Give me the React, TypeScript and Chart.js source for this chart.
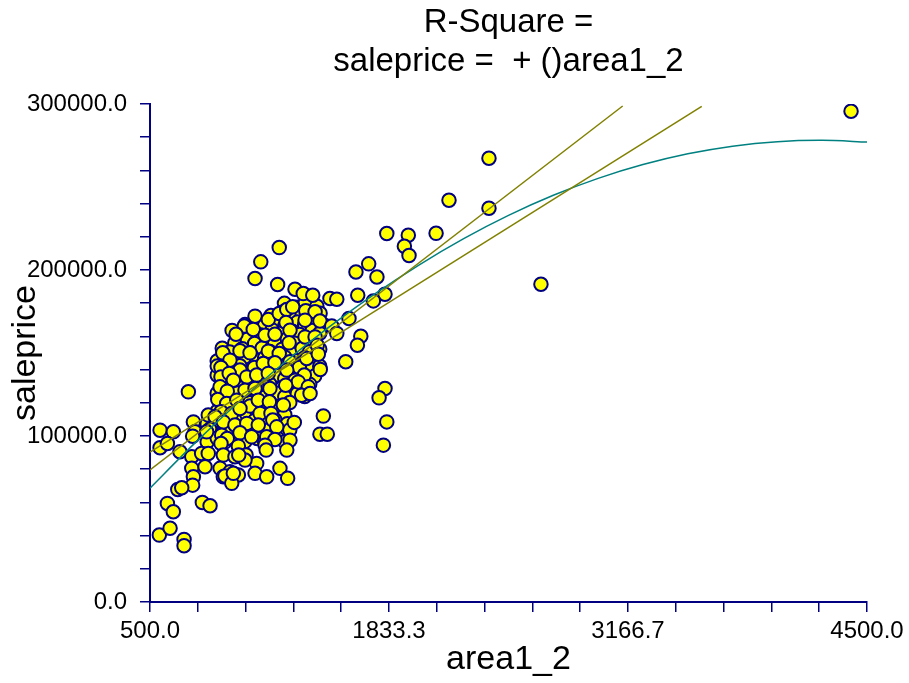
import React, { useEffect, useRef } from 'react';
import { Chart, registerables } from 'chart.js';

Chart.register(...registerables);

// ---- Data: scatter points (area1_2, saleprice) ----
const areaValues = [
  4411, 2681, 2391, 2391, 2168, 2096, 1941, 1919, 1945, 1821,
  1766, 1720, 1649, 1659, 1811, 1746, 1221, 1118, 1086, 1212,
  1309, 1355, 1408, 1504, 1542, 1086, 1160, 1221, 1263, 1296,
  1369, 1421, 1259, 1365, 1448, 1514, 1542, 1610, 1026, 1076,
  980, 1142, 1197, 1281, 1276, 1365, 1421, 1433, 1676, 1657,
  1002, 1058, 1160, 1221, 906, 946, 875, 896, 1002, 1082,
  1132, 1197, 1281, 1333, 1374, 1439, 1361, 1450, 1592, 896,
  942, 965, 1040, 1095, 1160, 1263, 1309, 1327, 1383, 714,
  891, 931, 1030, 1086, 1169, 1257, 1346, 1393, 1811, 1778,
  878, 928, 984, 1058, 1104, 1166, 1244, 896, 956, 1002,
  1114, 1175, 825, 863, 1467, 1821, 742, 751, 816, 909,
  974, 1040, 1104, 1185, 1207, 1305, 556, 630, 738, 900,
  931, 1002, 1067, 1151, 1197, 1281, 1448, 1489, 556, 597,
  667, 896, 993, 1142, 1263, 1802, 733, 788, 825, 909,
  974, 1036, 733, 807, 891, 946, 1095, 1225, 742, 909,
  993, 1086, 1151, 1268, 738, 918, 956, 965, 1030, 655,
  677, 597, 630, 792, 835, 552, 612, 690, 690, 995,
  1148,
];

const salePriceValues = [
  295600, 191400, 267300, 237200, 242000, 222100, 220900, 214300, 208700, 222000,
  195800, 203700, 198800, 184800, 185400, 181400, 213500, 204900, 194900, 191300,
  188400, 185800, 184800, 182800, 182400, 172200, 170200, 173800, 176200, 177800,
  175400, 174800, 168400, 169800, 169300, 166300, 161800, 170800, 166200, 164200,
  161300, 160700, 161300, 163700, 156100, 159700, 159700, 154700, 160100, 154700,
  151300, 150100, 151100, 149700, 150100, 145700, 142100, 141300, 139700, 141300,
  143700, 144100, 144700, 141300, 146700, 149300, 136700, 140100, 144700, 135600,
  137700, 133600, 135600, 136700, 137700, 139700, 133600, 132600, 129600, 126600,
  129600, 127000, 127600, 128600, 128600, 130600, 124600, 125600, 128600, 123000,
  122000, 119600, 121600, 118000, 121600, 120600, 118600, 114600, 113600, 116600,
  113600, 113600, 112600, 111600, 112000, 108500, 108500, 102500, 102500, 108500,
  106600, 107600, 106600, 109600, 105500, 108200, 103500, 102500, 99900, 100500,
  98500, 101900, 99500, 99500, 97900, 97500, 101100, 101100, 92900, 95500,
  90500, 95500, 93900, 94500, 91500, 94500, 87500, 89500, 89500, 88500,
  87500, 88500, 80500, 81500, 80500, 78400, 83500, 80500, 75400, 75400,
  76500, 77500, 75400, 74500, 70400, 75900, 71500, 77500, 85500, 67800,
  68800, 59400, 54400, 60000, 58000, 40300, 44400, 37700, 33900, 88500,
  91500,
];

// Heavily overlapped points inside the dense core of the cloud (estimated)
const coreAreaValues = [
  1250, 1322, 1366, 1431,
  1175, 1240, 1281, 1348, 1391, 1449,
  1030, 1097, 1140, 1210, 1252, 1322, 1363, 1433, 1476,
  958, 1001, 1070, 1112, 1182, 1224, 1294, 1335, 1405, 1447,
  973, 1043, 1084, 1154, 1196, 1266, 1308, 1377, 1419,
  903, 945, 1015, 1056, 1126, 1168, 1238, 1280, 1349, 1391, 1447,
  875, 917, 987, 1029, 1098, 1140, 1210, 1252, 1322, 1363, 1419,
  889, 959, 1001, 1070, 1112, 1182, 1224, 1294, 1335, 1405, 1447,
  875, 917, 987, 1029, 1098, 1140, 1210, 1252, 1322, 1363, 1419,
  903, 945, 1015, 1056, 1126, 1168, 1238, 1280, 1349, 1391,
  875, 917, 987, 1029, 1098, 1140, 1210, 1252, 1322, 1363,
  903, 945, 1015, 1056, 1126, 1168, 1238, 1280,
  875, 917, 987, 1029, 1098, 1140, 1210, 1252,
  819, 861, 931, 973, 1043, 1084, 1154, 1196, 1266,
  833, 903, 945, 1015, 1056, 1126, 1168, 1238, 1280,
  819, 875, 917, 987, 1029, 1098, 1140, 1210, 1252,
];

const corePriceValues = [
  179900, 177600, 180200, 178100,
  172600, 174700, 172100, 174300, 171800, 173900,
  167100, 169400, 166800, 168900, 166300, 168600, 167000, 169200, 166500,
  163600, 161400, 163300, 161000, 163900, 161700, 163100, 161200, 163500, 161900,
  156000, 158300, 155700, 158000, 156300, 158600, 155900, 157800, 156400,
  152800, 150600, 152500, 150200, 153000, 150900, 152300, 150500, 152700, 150800, 152300,
  145200, 147400, 145000, 147600, 145500, 147100, 144900, 147500, 145300, 147200, 145600,
  142000, 139800, 142300, 140100, 141800, 139600, 142100, 139900, 141700, 140300, 142000,
  136600, 134300, 136800, 134600, 136300, 134200, 136700, 134500, 136400, 134700, 136100,
  128900, 131200, 129100, 131000, 128700, 131300, 129200, 130900, 128800, 131100,
  125700, 123400, 125900, 123700, 125400, 123300, 125800, 123600, 125500, 123800,
  118100, 120300, 118400, 120100, 118000, 120400, 118300, 120200,
  114900, 112600, 115100, 112900, 114700, 112500, 115000, 112800,
  107300, 109500, 107600, 109700, 107200, 109400, 107500, 109800, 107400,
  104000, 101800, 104200, 102000, 103800, 101600, 104100, 101900, 103700,
  96400, 98600, 96300, 98800, 96600, 98500, 96200, 98700, 96500,
];

// Straight fitted lines (olive)
const lineFlatX = [500, 3578];
const lineFlatY = [90300, 298600];
const lineSteepX = [500, 3137];
const lineSteepY = [79500, 298800];

// Curved fit (teal)
const curveX = [500, 750, 1000, 1250, 1500, 1750, 2000, 2250, 2500, 2750, 3000, 3250, 3500, 3750, 4000, 4250, 4500];
const curveY = [68600, 95700, 120900, 144300, 165700, 185300, 203000, 218900, 232900, 245000, 255200, 263500, 270000, 274600, 277300, 278100, 277100];

// Axis ticks
const xTickValues = [500, 766.667, 1033.333, 1300, 1566.667, 1833.333, 2100, 2366.667, 2633.333, 2900, 3166.667, 3433.333, 3700, 3966.667, 4233.333, 4500];
const xTickLabels = ['500.0', '', '', '', '', '1833.3', '', '', '', '', '3166.7', '', '', '', '', '4500.0'];
const yTickValues = [0, 20000, 40000, 60000, 80000, 100000, 120000, 140000, 160000, 180000, 200000, 220000, 240000, 260000, 280000, 300000];
const yTickLabels = ['0.0', '', '', '', '', '100000.0', '', '', '', '', '200000.0', '', '', '', '', '300000.0'];

const titleLines = ['R-Square =', 'saleprice =  + ()area1_2'];
const xTitle = 'area1_2';
const yTitle = 'saleprice';

const FONT = 'Arial, "Liberation Sans", sans-serif';
const NAVY = '#000080';

export default function App() {
  const canvasRef = useRef<HTMLCanvasElement | null>(null);

  useEffect(() => {
    document.body.style.margin = '0';
    const canvas = canvasRef.current;
    if (!canvas) return;

    const toPts = (xs: number[], ys: number[]) => xs.map((x, i) => ({ x, y: ys[i] }));
    // core (hidden, overlapped) points first so the readable ones sit on top
    const scatterPts = toPts(coreAreaValues, corePriceValues).concat(toPts(areaValues, salePriceValues));

    const chart = new Chart(canvas, {
      type: 'scatter',
      data: {
        datasets: [
          {
            label: 'fit1',
            data: toPts(lineFlatX, lineFlatY),
            showLine: true,
            borderColor: '#808000',
            borderWidth: 1.5,
            pointRadius: 0,
            order: 0,
          },
          {
            label: 'fit2',
            data: toPts(lineSteepX, lineSteepY),
            showLine: true,
            borderColor: '#808000',
            borderWidth: 1.5,
            pointRadius: 0,
            order: 1,
          },
          {
            label: 'curve',
            data: toPts(curveX, curveY),
            showLine: true,
            borderColor: '#008080',
            borderWidth: 1.5,
            pointRadius: 0,
            tension: 0.3,
            order: 2,
          },
          {
            label: 'points',
            data: scatterPts,
            pointRadius: 6.75,
            pointBorderWidth: 2,
            pointBackgroundColor: '#FFFF00',
            pointBorderColor: NAVY,
            order: 3,
          },
        ],
      },
      options: {
        responsive: false,
        animation: false,
        devicePixelRatio: 1,
        events: [],
        layout: { padding: { left: 0, right: 42, top: 0, bottom: 0 } },
        plugins: {
          legend: { display: false },
          tooltip: { enabled: false },
          title: {
            display: true,
            text: titleLines,
            fullSize: false,
            color: '#000',
            font: { family: FONT, size: 33, weight: 'normal', lineHeight: 1.2 },
            padding: { top: 3, bottom: 21.8 },
          },
        },
        scales: {
          x: {
            type: 'linear',
            min: 500,
            max: 4500,
            afterBuildTicks: (scale: any) => {
              scale.ticks = xTickValues.map((v) => ({ value: v }));
            },
            afterFit: (scale: any) => {
              scale.height = 81;
            },
            ticks: {
              autoSkip: false,
              maxRotation: 0,
              color: '#000',
              padding: 5,
              font: { family: FONT, size: 24 },
              callback: (_v: any, i: number) => xTickLabels[i],
            },
            grid: {
              display: true,
              drawOnChartArea: false,
              drawTicks: true,
              tickLength: 10,
              color: NAVY,
              lineWidth: 1.5,
            },
            border: { display: true, color: NAVY, width: 2 },
            title: {
              display: true,
              text: xTitle,
              color: '#000',
              font: { family: FONT, size: 34 },
              padding: { top: 0, bottom: 3 },
            },
          },
          y: {
            type: 'linear',
            min: 0,
            max: 300000,
            afterBuildTicks: (scale: any) => {
              scale.ticks = yTickValues.map((v) => ({ value: v }));
            },
            afterFit: (scale: any) => {
              scale.width = 150;
            },
            ticks: {
              autoSkip: false,
              color: '#000',
              padding: 13,
              font: { family: FONT, size: 24 },
              callback: (_v: any, i: number) => yTickLabels[i],
            },
            grid: {
              display: true,
              drawOnChartArea: false,
              drawTicks: true,
              tickLength: 10,
              color: NAVY,
              lineWidth: 1.5,
            },
            border: { display: true, color: NAVY, width: 2 },
            title: {
              display: true,
              text: yTitle,
              color: '#000',
              font: { family: FONT, size: 34 },
              padding: { top: 5, bottom: 0 },
            },
          },
        },
      },
    } as any);

    return () => {
      chart.destroy();
    };
  }, []);

  return (
    <canvas
      ref={canvasRef}
      width={909}
      height={683}
      style={{ display: 'block', width: '909px', height: '683px' }}
    />
  );
}
